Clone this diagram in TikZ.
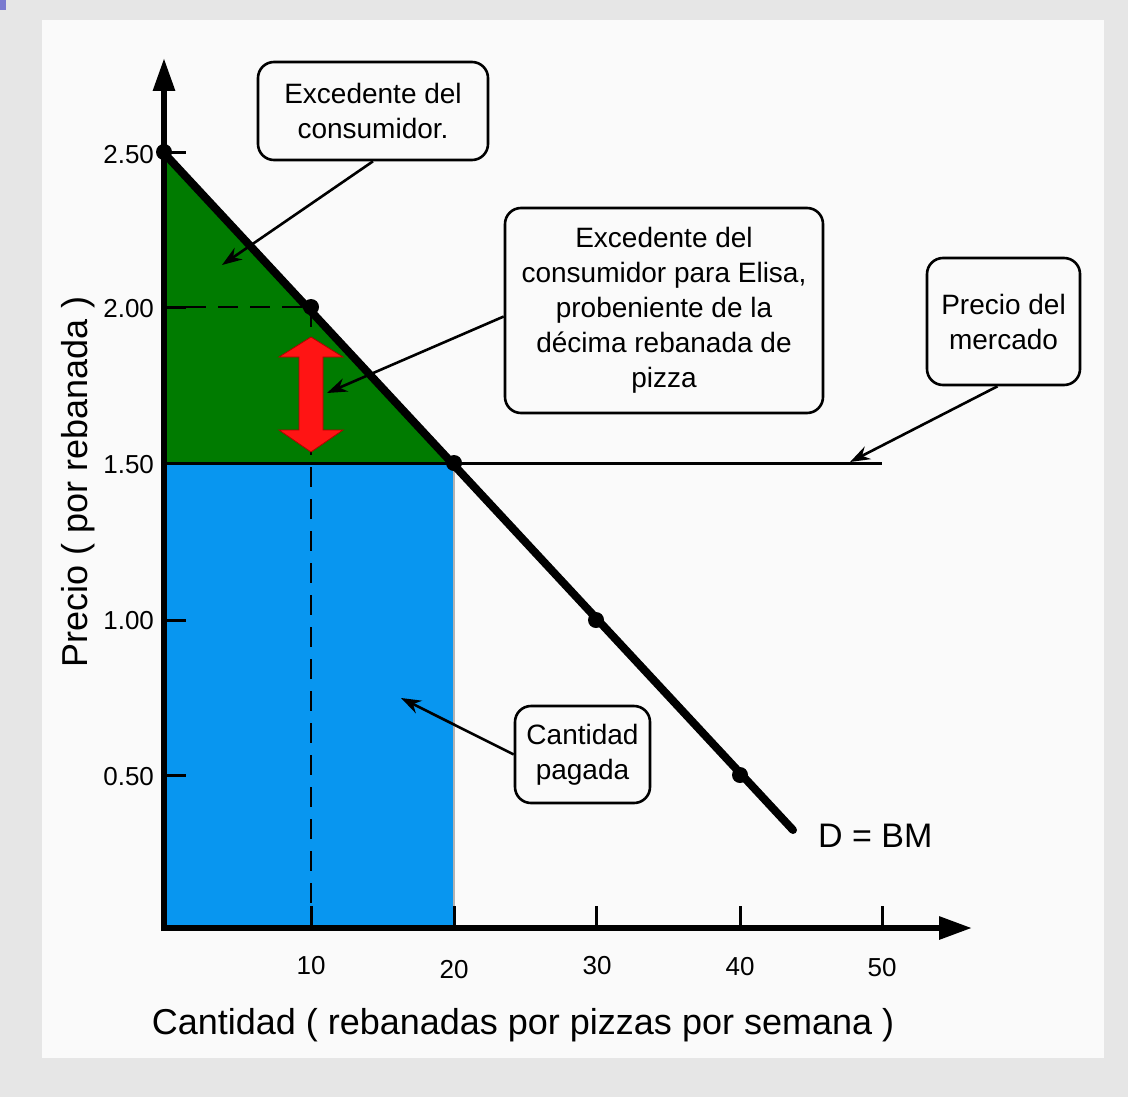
\documentclass[tikz,border=0pt]{standalone}
\usepackage{fontspec}
\setmainfont{Liberation Sans}
\usetikzlibrary{arrows.meta}
\definecolor{bggray}{HTML}{E6E6E6}
\definecolor{panel}{HTML}{FAFAFA}
\definecolor{corner}{HTML}{7B7BD0}
\definecolor{surplus}{HTML}{007B00}
\definecolor{paid}{HTML}{0896F0}
\definecolor{redarrow}{HTML}{FF1414}
\tikzset{
  callout/.style={draw=black, line width=1.3pt, rounded corners=8pt, fill=panel, align=center,
    inner sep=0pt, font=\fontsize{14pt}{17.5pt}\selectfont},
  pointer/.style={line width=1.3pt, -{Stealth[length=10pt,width=7pt]}},
  dot/.style={circle, fill=black, inner sep=0pt, minimum size=8pt},
  ticklab/.style={font=\fontsize{13pt}{15pt}\selectfont},
  axislab/.style={font=\fontsize{18pt}{21pt}\selectfont},
  guide/.style={line width=1pt, dash pattern=on 10pt off 6pt},
}
\begin{document}
\begin{tikzpicture}[x=0.5pt,y=-0.5pt]
\useasboundingbox (0,0) rectangle (1128,1097);
% backgrounds
\fill[bggray] (0,0) rectangle (1128,1097);
\fill[panel] (42,20) rectangle (1104,1058);
\fill[corner] (0,0) rectangle (6,10);
% areas
\fill[paid] (164,463) rectangle (454,928);
\draw[gray!60, line width=0.6pt] (454,463) -- (454,928);
\fill[surplus] (164,152) -- (454,463) -- (164,463) -- cycle;
% guides
\draw[guide] (186,307) -- (311,307);
\draw[guide] (311,307) -- (311,928);
% price line
\draw[line width=1.5pt] (164,463) -- (882,463);
% red double arrow
\draw[fill=redarrow, draw=red!70!black, line width=0.4pt]
  (311,337) -- (343,357) -- (323,357) -- (323,430) -- (343,430) -- (311,452)
  -- (279,430) -- (299,430) -- (299,357) -- (279,357) -- cycle;
% axes
\draw[line width=3pt, -{Triangle[length=16.5pt,width=10.5pt]}] (164,931) -- (164,58);
\draw[line width=3pt, -{Triangle[length=16.5pt,width=11pt]}] (161,928) -- (972,928);
% ticks
\foreach \yy in {152,307,463,620,775} \draw[line width=1.5pt] (164,\yy) -- (186,\yy);
\foreach \xx in {311,454,596,740,882} \draw[line width=1.5pt] (\xx,928) -- (\xx,906);
% tick labels
\node[ticklab, anchor=east] (l250) at (161,155) {2.50};
\node[ticklab, anchor=east] (l200) at (161,309) {2.00};
\node[ticklab, anchor=east] (l150) at (161,465) {1.50};
\node[ticklab, anchor=east] (l100) at (161,621) {1.00};
\node[ticklab, anchor=east] (l050) at (161,777) {0.50};
\node[ticklab] (x10) at (311,966) {10};
\node[ticklab] (x20) at (454,970) {20};
\node[ticklab] (x30) at (597,966) {30};
\node[ticklab] (x40) at (740,967) {40};
\node[ticklab] (x50) at (882,968) {50};
% demand curve
\draw[line width=4pt, line cap=round] (163,152) -- (793,830);
\node[dot] (p0) at (164,152) {};
\node[dot] (p10) at (311,307) {};
\node[dot] (p20) at (454,463) {};
\node[dot] (p30) at (596,620) {};
\node[dot] (p40) at (740,775) {};
\node[font=\fontsize{17pt}{20pt}\selectfont, anchor=west] (dbm) at (811,836) {D = BM};
% axis labels
\node[axislab, rotate=90] (ylab) at (78,482) {Precio ( por rebanada )};
\node[axislab] (xlab) at (523,1025) {Cantidad ( rebanadas por pizzas por semana )};
% callouts
\node[callout, minimum width=115pt, minimum height=49pt] (b1) at (373,111)
  {Excedente del\\consumidor.};
\node[callout, minimum width=159pt, minimum height=102.5pt] (b2) at (664,310.5)
  {Excedente del\\consumidor para Elisa,\\probeniente de la\\décima rebanada de\\pizza};
\node[callout, minimum width=76.5pt, minimum height=63.5pt] (b3) at (1003.5,321.5)
  {Precio del\\mercado};
\node[callout, minimum width=67.5pt, minimum height=48.5pt] (b4) at (582.5,754.5)
  {Cantidad\\pagada};
% pointer targets
\coordinate (t1) at (222,265);
\coordinate (t2) at (327,393);
\coordinate (t3) at (850,462);
\coordinate (t4) at (401,698);
\draw[pointer] (b1.south) -- (t1);
\draw[pointer] ([yshift=-3pt]b2.west) -- (t2);
\draw[pointer] ([xshift=-3pt]b3.south) -- (t3);
\draw[pointer] (b4.west) -- (t4);
\end{tikzpicture}
\end{document}
